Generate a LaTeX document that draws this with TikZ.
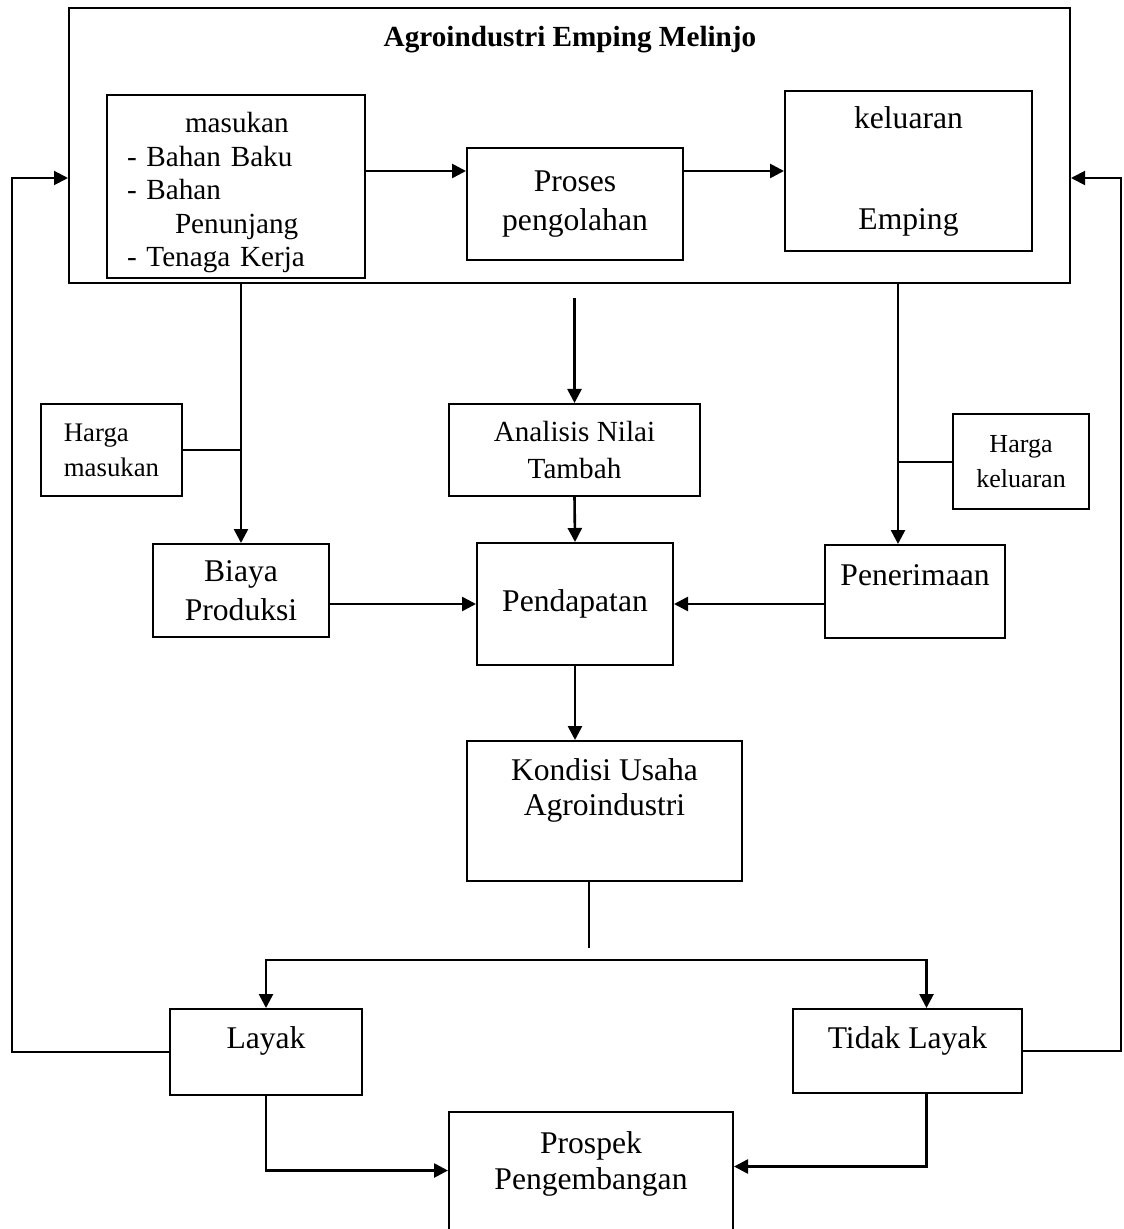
\documentclass[tikz,border=0pt]{standalone}
\usepackage{fontspec}
\setmainfont{Liberation Serif}
\usetikzlibrary{arrows.meta, positioning, calc}
\tikzstyle{arrow} = [line width=1.3pt,-{Triangle[length=7pt,width=7pt]}]
\tikzstyle{arrowboth} = [line width=1.3pt,{Triangle[length=7pt,width=7pt]}-{Triangle[length=7pt,width=7pt]}]

\begin{document}
\begin{tikzpicture}[
    x=0.5pt, y=-0.5pt,
    box/.style={draw, line width=1pt, rectangle, align=center, inner sep=0pt, font=\fontsize{15.8}{19.5}\selectfont},
    smallbox/.style={box, font=\fontsize{14.6}{18.5}\selectfont},
    pricebox/.style={box, align=left, font=\fontsize{13.4}{17.5}\selectfont},
    line/.style={line width=1pt}
]
\useasboundingbox (0,0) rectangle (1123,1229);

% agroindustri
\node[draw, line width=1pt, minimum width=500.5pt, minimum height=137.5pt] (agro) at (569.5,145.5) {};
\node[font=\fontsize{14.6}{17.5}\selectfont\bfseries] (judul) at (570,40) {Agroindustri Emping Melinjo};
\node[smallbox, align=left, text width=109pt, inner xsep=10pt, text height=19pt, text depth=72.5pt, anchor=north,
      font=\fontsize{14.6}{16.75}\selectfont] (masukan) at (236,94)
    {\hspace*{29pt}masukan\\- Bahan Baku\\- Bahan\\\hspace*{24pt}Penunjang\\- Tenaga Kerja};
\node[box, minimum width=108pt, minimum height=56pt] (proses) at (575,204) {Proses\\pengolahan};
\node[box, minimum width=123.5pt, text height=69.5pt, text depth=10.5pt, anchor=north] (keluaran) at (908.5,90) {keluaran\\[31pt]Emping};

% harga dan nilai tambah
\node[pricebox, minimum width=70.5pt, minimum height=46pt] (hmasukan) at (111.5,450) {Harga\\masukan};
\node[smallbox, minimum width=125.5pt, minimum height=46pt] (analisis) at (574.5,450) {Analisis Nilai\\Tambah};
\node[pricebox, align=center, font=\fontsize{13}{17.5}\selectfont, minimum width=68pt, minimum height=47.5pt] (hkeluaran) at (1021,461.5) {Harga\\keluaran};

% pendapatan
\node[box, minimum width=88pt, minimum height=46.5pt] (biaya) at (241,590.5) {Biaya\\Produksi};
\node[box, minimum width=98pt, minimum height=61pt] (pendapatan) at (575,604) {Pendapatan};
\node[box, minimum width=90pt, text height=20pt, text depth=26.5pt, anchor=north] (penerimaan) at (915,544) {Penerimaan};
\node[box, font=\fontsize{15.8}{17.5}\selectfont, minimum width=137.5pt, text height=37pt, text depth=33pt, anchor=north] (kondisi) at (604.5,740) {Kondisi Usaha\\Agroindustri};

% kelayakan
\node[box, minimum width=96pt, text height=19.5pt, text depth=23.5pt, anchor=north] (layak) at (266,1008) {Layak};
\node[box, minimum width=114.5pt, text height=19.5pt, text depth=22.5pt, anchor=north] (tidak) at (907.5,1008) {Tidak Layak};
\node[box, font=\fontsize{15.8}{18}\selectfont, minimum width=142pt, text height=38.5pt, text depth=26pt, anchor=north] (prospek) at (591,1111) {Prospek\\Pengembangan};

% alur
\coordinate (kiri) at (12,178);
\coordinate (kanan) at (1121,178);
\draw[arrow] (masukan.east |- keluaran.west) -- (proses.west |- keluaran.west);
\draw[arrow] (proses.east |- keluaran.west) -- (keluaran.west);
\draw[arrow, line width=1pt] (layak.west) -| (kiri) -- (kiri -| agro.west);
\draw[arrow, line width=1pt] (tidak.east) -| (kanan) -- (kanan -| agro.east);

\draw[arrow] (biaya.north |- agro.south) -- (biaya.north);
\draw[line] (hmasukan.east) -- (hmasukan.east -| biaya.north);
\coordinate (tengah) at ([yshift=-7pt]agro.south);
\draw[arrow] (analisis.north |- tengah) -- (analisis.north);
\coordinate (pin) at ([xshift=-8.5pt]penerimaan.north);
\draw[arrow] (pin |- agro.south) -- (pin);
\draw[line] (hkeluaran.west) -- (hkeluaran.west -| pin);

\draw[arrow] (analisis.south) -- (pendapatan.north);
\draw[arrow] (biaya.east |- pendapatan.west) -- (pendapatan.west);
\draw[arrow] (penerimaan.west |- pendapatan.east) -- (pendapatan.east);
\draw[arrow] (pendapatan.south) -- (pendapatan.south |- kondisi.north);

\coordinate (kbawah) at ([xshift=-8pt]kondisi.south);
\draw[line] (kbawah) -- ++(0,66);
\coordinate (cabang) at ([yshift=-39pt]kbawah);
\coordinate (tin) at ([xshift=9.5pt]tidak.north);
\draw[arrowboth] (layak.north) |- (tin |- cabang) -- (tin);
\draw[arrow] (layak.south) |- ([yshift=3pt]prospek.west);
\draw[arrow] (tin |- tidak.south) |- ([yshift=5pt]prospek.east);
\end{tikzpicture}
\end{document}
